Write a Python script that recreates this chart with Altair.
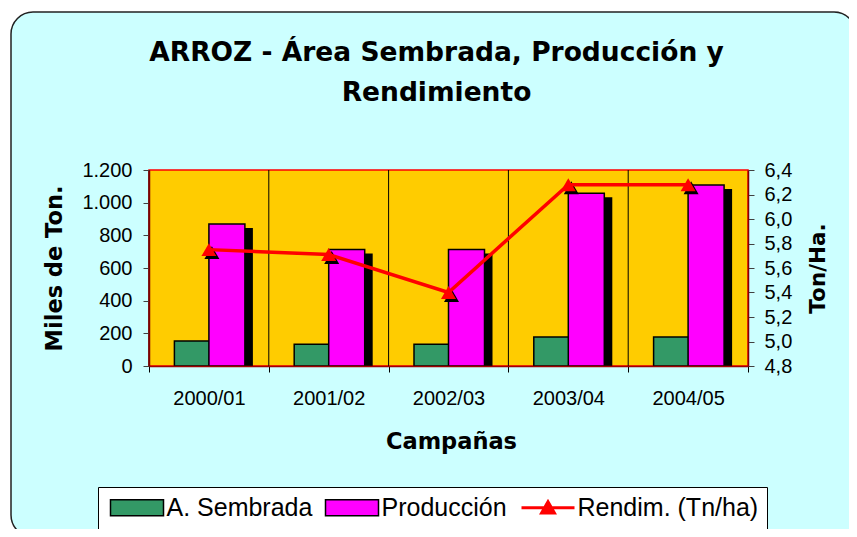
import altair as alt
import pandas as pd

# ---- data ----
campanas = ["2000/01", "2001/02", "2002/03", "2003/04", "2004/05"]
area_sembrada = [153, 133, 133, 178, 178]        # left axis
produccion = [870, 714, 714, 1057, 1108]          # left axis
rendimiento = [5.75, 5.71, 5.40, 6.28, 6.28]      # right axis (Ton/Ha.)

series = ["A. Sembrada", "Producción", "Rendim. (Tn/ha)"]
colors = ["#339966", "#FF00FF", "#FF0000"]

left_ticks = [0, 200, 400, 600, 800, 1000, 1200]
right_ticks = [4.8, 5.0, 5.2, 5.4, 5.6, 5.8, 6.0, 6.2, 6.4]

df = pd.DataFrame({"campana": campanas, "area": area_sembrada,
                   "produccion": produccion, "rendimiento": rendimiento})

W, H = 599, 196
BOLD = "DejaVu Sans"
REG = "Liberation Sans"

color_scale = alt.Scale(domain=series, range=colors)

line_name = series[2]
rect_path = "M-3.3125,-1H3.3125V1H-3.3125Z"
line_path = "M-3.3125,0H3.3125M-0.8,0.65L0,-0.75L0.8,0.65Z"

legend = alt.Legend(
    title=None, orient="none", direction="horizontal",
    legendX=-51, legendY=317,
    fillColor="white", strokeColor="black", padding=8,
    labelFont=REG, labelFontSize=25, labelColor="black", labelLimit=400,
    labelOffset=17, symbolOffset=18.5, columnPadding=8,
    symbolSize=256, symbolOpacity=1,
    symbolType=alt.ExprRef(f"datum.value === '{line_name}' ? '{line_path}' : '{rect_path}'"),
    symbolStrokeColor=alt.ExprRef(f"datum.value === '{line_name}' ? '#FF0000' : '#000000'"),
    symbolStrokeWidth=alt.ExprRef(f"datum.value === '{line_name}' ? 3 : 1.5"),
    symbolFillColor=alt.ExprRef("scale('color', datum.value)"),
    zindex=1,
)

x_axis = alt.Axis(
    title="Campañas", titleFont=BOLD, titleFontSize=22.5, titleFontWeight="bold",
    titleColor="black", titleY=82, titleX=302, titleBaseline="alphabetic",
    labelFont=REG, labelFontSize=20, labelColor="black", labelAngle=0,
    labelPadding=16, labelBaseline="top", tickSize=6, tickColor="black",
    tickBand="extent", domainColor="#A00000", domainWidth=1.5, grid=False, zindex=1,
)
x_scale = alt.Scale(paddingInner=0, paddingOuter=0)
x_enc = alt.X("campana:N", sort=campanas, scale=x_scale, axis=x_axis)

left_axis = alt.Axis(
    title="Miles de Ton.", titleFont=BOLD, titleFontSize=22.5, titleFontWeight="bold",
    titleColor="black", titleX=-95, titleY=H / 2, titleAngle=270,
    titleBaseline="middle", titleAlign="center",
    values=left_ticks,
    labelExpr="replace(format(datum.value, ','), ',', '.')",
    labelFont=REG, labelFontSize=20, labelColor="black", labelPadding=11,
    tickSize=6, tickColor="#404040", domainColor="#800000", domainWidth=1.5,
    grid=False, zindex=1,
)
left_scale = alt.Scale(domain=[0, 1200], nice=False)

right_axis = alt.Axis(
    orient="right",
    title="Ton/Ha.", titleFont=BOLD, titleFontSize=21.5, titleFontWeight="bold",
    titleColor="black", titleX=70, titleY=H / 2, titleAngle=270,
    titleBaseline="middle", titleAlign="center",
    values=right_ticks,
    labelExpr="replace(format(datum.value, '.1f'), '.', ',')",
    labelFont=REG, labelFontSize=20, labelColor="black", labelPadding=10,
    tickSize=6, tickColor="#404040", domainColor="#800000", domainWidth=1.5,
    grid=False, zindex=1,
)
right_scale = alt.Scale(domain=[4.8, 6.4], nice=False, zero=False)

one = alt.Data(values=[{}])

# decorative chart frame (rounded light-cyan panel) and gold plot area
frame = alt.Chart(one).mark_rect(
    fill="#CCFFFF", stroke="#222222", strokeWidth=1.5, cornerRadius=22
).encode(x=alt.value(-138), x2=alt.value(707), y=alt.value(-158), y2=alt.value(367))

plot_bg = alt.Chart(one).mark_rect(
    fill="#FFCC00", stroke="#FF0000", strokeWidth=1.5
).encode(x=alt.value(0), x2=alt.value(W), y=alt.value(0), y2=alt.value(H))

base = alt.Chart(df)

grid = base.mark_rule(color="black", strokeWidth=1).encode(
    x=alt.X("campana:N", sort=campanas, scale=x_scale, axis=x_axis, bandPosition=0)
)

shadow = base.mark_bar(width=36, xOffset=26, yOffset=4, color="black", opacity=1).encode(
    x=x_enc,
    y=alt.Y("produccion:Q", scale=left_scale, axis=left_axis, stack=None),
)

green = base.transform_calculate(serie=f"'{series[0]}'").mark_bar(
    width=35, xOffset=-17, stroke="black", strokeWidth=1.5, opacity=1
).encode(
    x=x_enc,
    y=alt.Y("area:Q", scale=left_scale, axis=left_axis, stack=None),
    color=alt.Color("serie:N", scale=color_scale, legend=legend),
)

magenta = base.transform_calculate(serie=f"'{series[1]}'").mark_bar(
    width=36, xOffset=18, stroke="black", strokeWidth=1.5, opacity=1
).encode(
    x=x_enc,
    y=alt.Y("produccion:Q", scale=left_scale, axis=left_axis, stack=None),
    color=alt.Color("serie:N", scale=color_scale, legend=legend),
)

left = alt.layer(frame, plot_bg, grid, shadow, green, magenta)

y_right = alt.Y("rendimiento:Q", scale=right_scale, axis=right_axis)

tri_shadow = base.mark_point(
    shape="triangle-up", filled=True, size=225, color="black", opacity=1,
    xOffset=3, yOffset=3
).encode(x=x_enc, y=y_right)

line = base.mark_line(strokeWidth=3.5, opacity=1, color=colors[2]).encode(
    x=x_enc, y=y_right,
)

tris = base.mark_point(
    shape="triangle-up", filled=True, size=225, color=colors[2], opacity=1
).encode(x=x_enc, y=y_right)

right = alt.layer(tri_shadow, line, tris)

chart = alt.layer(left, right).resolve_scale(y="independent").properties(
    width=W, height=H,
    autosize=alt.AutoSizeParams(type="none"),
    padding={"left": 141, "top": 162, "right": 101, "bottom": 163},
    background="white",
    title=alt.TitleParams(
        text=["ARROZ - Área Sembrada, Producción y", "Rendimiento"],
        font=BOLD, fontSize=26.5, fontWeight="bold", color="black",
        lineHeight=40, anchor="middle", frame="group", dx=-12, offset=-116,
        baseline="alphabetic", zindex=1,
    ),
).configure_view(stroke=None)

chart.save("out.html", embed_options={"renderer": "svg", "actions": False})
